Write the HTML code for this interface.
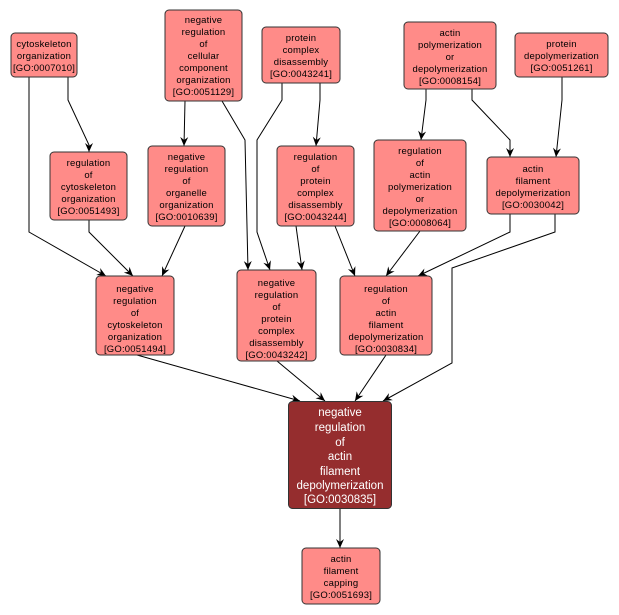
<!DOCTYPE html>
<html><head><meta charset="utf-8">
<style>
html,body{margin:0;padding:0;background:#fff;}
svg{display:block;}
text{font-family:"Liberation Sans",sans-serif;font-size:9.5px;fill:#000;text-anchor:middle;letter-spacing:0.2px;}
.m text{fill:#fff;font-size:11.5px;letter-spacing:0;}
rect.n{fill:#ff8b88;stroke:#333;stroke-width:1;}
path.e{fill:none;stroke:#000;stroke-width:1;}
</style></head><body>
<svg width="619" height="615" viewBox="0 0 619 615" xmlns="http://www.w3.org/2000/svg">
<defs>
<marker id="a" markerWidth="10" markerHeight="10" refX="9" refY="5" orient="auto" markerUnits="userSpaceOnUse">
<path d="M0,1 L9,5 L0,9 L3,5 Z" fill="#000"/>
</marker>
</defs>
<g marker-end="url(#a)">
<path class="e" d="M29,77 L29,232 L106,276"/>
<path class="e" d="M68,77 L68,100 L89,145 L89,152"/>
<path class="e" d="M89,220 L89,232 L133,276"/>
<path class="e" d="M185,226 L162,276"/>
<path class="e" d="M185,101 L184,146"/>
<path class="e" d="M222,101 L245,140 L248,270"/>
<path class="e" d="M282,83 L282,100 L257,140 L257,232 L270,270"/>
<path class="e" d="M320,83 L320,100 L316,146"/>
<path class="e" d="M296,226 L302,270"/>
<path class="e" d="M335,226 L355,276"/>
<path class="e" d="M420,231 L386,276"/>
<path class="e" d="M426,89 L426,100 L421,140"/>
<path class="e" d="M472,89 L472,100 L510,140 L510,157"/>
<path class="e" d="M562,77 L562,100 L556,157"/>
<path class="e" d="M510,214 L510,232 L418,276"/>
<path class="e" d="M555,214 L555,232 L452,268 L452,363 L383,401"/>
<path class="e" d="M137,355 L300,401"/>
<path class="e" d="M277,361 L325,401"/>
<path class="e" d="M386,355 L355,401"/>
<path class="e" d="M340,509 L340,548"/>
</g>
<rect class="n" x="11" y="33" width="66" height="44" rx="4"/>
<text><tspan x="44" y="47">cytoskeleton</tspan><tspan x="44" y="59">organization</tspan><tspan x="44" y="71">[GO:0007010]</tspan></text>

<rect class="n" x="165" y="10" width="77" height="91" rx="4"/>
<text><tspan x="203.5" y="23">negative</tspan><tspan x="203.5" y="35">regulation</tspan><tspan x="203.5" y="47">of</tspan><tspan x="203.5" y="59">cellular</tspan><tspan x="203.5" y="71">component</tspan><tspan x="203.5" y="83">organization</tspan><tspan x="203.5" y="95">[GO:0051129]</tspan></text>

<rect class="n" x="262" y="27" width="78" height="56" rx="4"/>
<text><tspan x="301" y="41">protein</tspan><tspan x="301" y="53">complex</tspan><tspan x="301" y="65">disassembly</tspan><tspan x="301" y="77">[GO:0043241]</tspan></text>

<rect class="n" x="404" y="22" width="92" height="67" rx="4"/>
<text><tspan x="450" y="36">actin</tspan><tspan x="450" y="48">polymerization</tspan><tspan x="450" y="60">or</tspan><tspan x="450" y="72">depolymerization</tspan><tspan x="450" y="84">[GO:0008154]</tspan></text>

<rect class="n" x="515" y="33" width="93" height="44" rx="4"/>
<text><tspan x="561.5" y="47">protein</tspan><tspan x="561.5" y="59">depolymerization</tspan><tspan x="561.5" y="71">[GO:0051261]</tspan></text>

<rect class="n" x="50" y="152" width="77" height="68" rx="4"/>
<text><tspan x="88.5" y="166">regulation</tspan><tspan x="88.5" y="178">of</tspan><tspan x="88.5" y="190">cytoskeleton</tspan><tspan x="88.5" y="202">organization</tspan><tspan x="88.5" y="214">[GO:0051493]</tspan></text>

<rect class="n" x="148" y="146" width="77" height="80" rx="4"/>
<text><tspan x="186.5" y="160">negative</tspan><tspan x="186.5" y="172">regulation</tspan><tspan x="186.5" y="184">of</tspan><tspan x="186.5" y="196">organelle</tspan><tspan x="186.5" y="208">organization</tspan><tspan x="186.5" y="220">[GO:0010639]</tspan></text>

<rect class="n" x="277" y="146" width="77" height="80" rx="4"/>
<text><tspan x="315.5" y="160">regulation</tspan><tspan x="315.5" y="172">of</tspan><tspan x="315.5" y="184">protein</tspan><tspan x="315.5" y="196">complex</tspan><tspan x="315.5" y="208">disassembly</tspan><tspan x="315.5" y="220">[GO:0043244]</tspan></text>

<rect class="n" x="374" y="140" width="92" height="91" rx="4"/>
<text><tspan x="420" y="154">regulation</tspan><tspan x="420" y="166">of</tspan><tspan x="420" y="178">actin</tspan><tspan x="420" y="190">polymerization</tspan><tspan x="420" y="202">or</tspan><tspan x="420" y="214">depolymerization</tspan><tspan x="420" y="226">[GO:0008064]</tspan></text>

<rect class="n" x="487" y="157" width="92" height="57" rx="4"/>
<text><tspan x="533" y="172">actin</tspan><tspan x="533" y="184">filament</tspan><tspan x="533" y="196">depolymerization</tspan><tspan x="533" y="208">[GO:0030042]</tspan></text>

<rect class="n" x="96" y="276" width="78" height="79" rx="4"/>
<text><tspan x="135" y="292">negative</tspan><tspan x="135" y="304">regulation</tspan><tspan x="135" y="316">of</tspan><tspan x="135" y="328">cytoskeleton</tspan><tspan x="135" y="340">organization</tspan><tspan x="135" y="352">[GO:0051494]</tspan></text>

<rect class="n" x="237" y="270" width="79" height="91" rx="4"/>
<text><tspan x="276.5" y="286">negative</tspan><tspan x="276.5" y="298">regulation</tspan><tspan x="276.5" y="310">of</tspan><tspan x="276.5" y="322">protein</tspan><tspan x="276.5" y="334">complex</tspan><tspan x="276.5" y="346">disassembly</tspan><tspan x="276.5" y="358">[GO:0043242]</tspan></text>

<rect class="n" x="340" y="276" width="92" height="79" rx="4"/>
<text><tspan x="386" y="292">regulation</tspan><tspan x="386" y="304">of</tspan><tspan x="386" y="316">actin</tspan><tspan x="386" y="328">filament</tspan><tspan x="386" y="340">depolymerization</tspan><tspan x="386" y="352">[GO:0030834]</tspan></text>

<g class="m">
<rect x="288.5" y="401.5" width="103" height="107" rx="4" fill="#952d2e" stroke="#333"/>
<text><tspan x="340" y="416">negative</tspan><tspan x="340" y="431">regulation</tspan><tspan x="340" y="446">of</tspan><tspan x="340" y="460">actin</tspan><tspan x="340" y="475">filament</tspan><tspan x="340" y="489">depolymerization</tspan><tspan x="340" y="503">[GO:0030835]</tspan></text>
</g>

<rect class="n" x="302" y="548" width="78" height="56" rx="4"/>
<text><tspan x="341" y="562">actin</tspan><tspan x="341" y="574">filament</tspan><tspan x="341" y="586">capping</tspan><tspan x="341" y="598">[GO:0051693]</tspan></text>
</svg>
</body></html>
